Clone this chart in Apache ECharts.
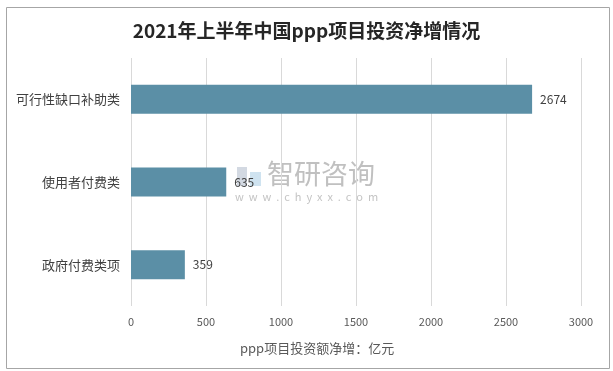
<!DOCTYPE html>
<html>
<head>
<meta charset="utf-8">
<script src="https://cdn.jsdelivr.net/npm/echarts@6/dist/echarts.min.js"></script>
<style>
html,body{margin:0;padding:0;background:#fff;}
#c{width:613px;height:371px;}
</style>
</head>
<body>
<div id="c"></div>
<script>
const categories = ['可行性缺口补助类', '使用者付费类', '政府付费类项'];
const values = [2674, 635, 359];
const xTicks = [0, 500, 1000, 1500, 2000, 2500, 3000];
const titleText = '2021年上半年中国ppp项目投资净增情况';
const axisTitle = 'ppp项目投资额净增：亿元';

const chart = echarts.init(document.getElementById('c'), null, {renderer: 'canvas'});
const font = '"Noto Sans CJK SC", "Microsoft YaHei", sans-serif';
chart.setOption({
  backgroundColor: '#fff',
  animation: false,
  title: {
    text: titleText, left: 'center', top: 16,
    textStyle: {fontFamily: font, fontSize: 19, fontWeight: 'bold', color: '#262626'}
  },
  grid: {left: 131, right: 32, top: 58, bottom: 65, containLabel: false},
  xAxis: {
    type: 'value', min: xTicks[0], max: xTicks[xTicks.length - 1], interval: 500,
    axisLine: {show: false}, axisTick: {show: false},
    splitLine: {show: true, lineStyle: {color: '#d9d9d9', width: 1}},
    axisLabel: {color: '#595959', fontSize: 11, fontFamily: font, margin: 10, formatter: v => String(v)}
  },
  yAxis: {
    type: 'category', data: categories, inverse: true,
    axisLine: {show: false}, axisTick: {show: false},
    axisLabel: {color: '#404040', fontSize: 13, fontFamily: font, margin: 11}
  },
  series: [{
    type: 'bar', data: values, barWidth: 29,
    itemStyle: {color: '#5b8fa6'},
    label: {show: true, position: 'right', distance: 8, color: '#404040', fontSize: 12, fontFamily: font}
  }],
  graphic: [
    {type: 'rect', left: 4, top: 5, shape: {width: 603, height: 361}, style: {fill: 'none', stroke: '#a6a6a6', lineWidth: 1}, z: 100},
    {type: 'text', left: 240, top: 342, style: {text: axisTitle, fill: '#595959', fontSize: 13, fontFamily: font}, z: 10},
    {type: 'text', left: 267, top: 160, style: {text: '智研咨询', fill: '#c0c0c0', fontSize: 27, fontFamily: font}, z: 0},
    {type: 'text', left: 235, top: 191, style: {text: 'w  w  w  .  c  h  y  x  x  .  c  o  m', fill: '#c4c4c4', fontSize: 11, fontFamily: font}, z: 0},
    {type: 'rect', left: 237, top: 167, shape: {width: 10, height: 19}, style: {fill: '#d3d9e2'}, z: 0},
    {type: 'rect', left: 250, top: 172, shape: {width: 11, height: 14}, style: {fill: '#cfe3f0'}, z: 0}
  ]
});
</script>
</body>
</html>
